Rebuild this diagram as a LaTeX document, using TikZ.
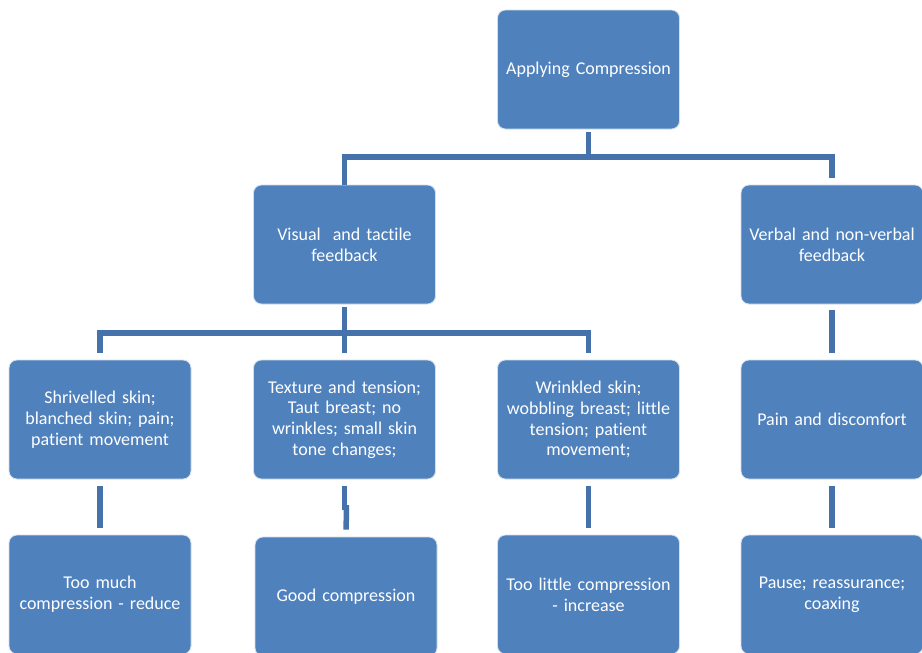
\documentclass[tikz,border=0pt]{standalone}
\usepackage{fontspec}
\setmainfont{Carlito}[Ligatures={NoCommon}]
\begin{document}
\begin{tikzpicture}[x=1pt,y=-1pt,
  box/.style={draw=white!75!boxblue, line width=0.8pt, fill=boxblue, rounded corners=8pt,
    minimum width=182pt, minimum height=119pt, text width=180pt, align=center,
    text=white, inner sep=0pt, font=\fontsize{18}{20.8}\selectfont},
  conn/.style={draw=connblue, line width=5.5pt}]
\definecolor{boxblue}{HTML}{4F81BD}
\definecolor{connblue}{HTML}{4672AB}
\clip (0,0) rectangle (922,653);
\fill[white] (0,0) rectangle (922,653);
% nodes
\node[box] (top) at (588.5,69.5) {Applying Compression};
\node[box] (vis) at (344.5,244.5) {Visual\ \ and tactile\\feedback};
\node[box] (verb) at (832,244.5) {Verbal and non-verbal\\feedback};
\node[box] (r1) at (100,419.5) {Shrivelled skin;\\blanched skin; pain;\\patient movement};
\node[box] (r2) at (344.5,419.5) {Texture and tension;\\Taut breast; no\\wrinkles; small skin\\tone changes;};
\node[box] (r3) at (588.5,419.5) {Wrinkled skin;\\wobbling breast; little\\tension; patient\\movement;};
\node[box] (r4) at (832,419.5) {Pain and discomfort};
\node[box] (b1) at (100,594.5) {Too much\\compression - reduce};
\node[box] (b2) at (346,596.5) {Good compression};
\node[box] (b3) at (588.5,594.5) {Too little compression\\- increase};
\node[box] (b4) at (832,594.5) {Pause; reassurance;\\coaxing};
% connectors
\coordinate (j1) at (588.5,157);
\coordinate (j2) at (344.5,333);
\coordinate (k2) at (344.5,510);
\coordinate (k3) at (346.5,505);
\draw[conn, shorten <=3pt] (top.south) -- (j1);
\draw[conn] (j1) -| (vis.north);
\draw[conn, shorten >=7pt] (j1) -| (verb.north);
\draw[conn, shorten <=3pt] (vis.south) -- (j2);
\draw[conn, shorten >=7pt] (j2) -| (r1.north);
\draw[conn, shorten >=7pt] (j2) -- (r2.north);
\draw[conn, shorten >=7pt] (j2) -| (r3.north);
\draw[conn, shorten <=6pt, shorten >=7pt] (verb.south) -- (r4.north);
\draw[conn, shorten <=7pt, shorten >=7pt] (r1.south) -- (b1.north);
\draw[conn, shorten <=7pt] (r2.south) -- (k2);
\draw[conn, shorten >=7pt] (k3) -- (b2.north);
\draw[conn, shorten <=7pt, shorten >=7pt] (r3.south) -- (b3.north);
\draw[conn, shorten <=7pt, shorten >=7pt] (r4.south) -- (b4.north);
\end{tikzpicture}
\end{document}
